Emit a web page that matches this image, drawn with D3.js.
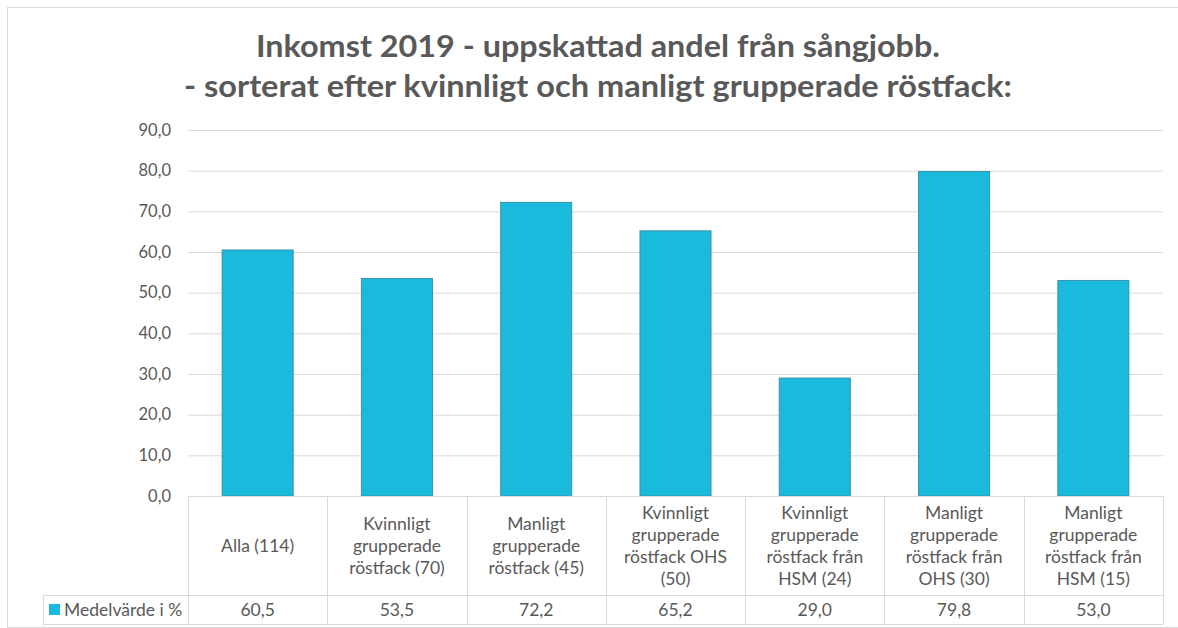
<!DOCTYPE html>
<html>
<head>
<meta charset="utf-8">
<script src="https://cdn.jsdelivr.net/npm/d3@7"></script>
<style>
  html, body { margin: 0; padding: 0; background: #fff; }
  svg { display: block; font-family: Lato, "Open Sans", sans-serif; }
</style>
</head>
<body>
<div id="chart"></div>
<script>
// Data
const categories = [
  ['Alla (114)'],
  ['Kvinnligt', 'grupperade', 'röstfack (70)'],
  ['Manligt', 'grupperade', 'röstfack (45)'],
  ['Kvinnligt', 'grupperade', 'röstfack OHS', '(50)'],
  ['Kvinnligt', 'grupperade', 'röstfack från', 'HSM (24)'],
  ['Manligt', 'grupperade', 'röstfack från', 'OHS (30)'],
  ['Manligt', 'grupperade', 'röstfack från', 'HSM (15)']
];
const values = [60.5, 53.5, 72.2, 65.2, 29.0, 79.8, 53.0];
const seriesName = 'Medelvärde i %';
const yTicks = [0, 10, 20, 30, 40, 50, 60, 70, 80, 90];
const titleLines = [
  'Inkomst 2019 - uppskattad andel från sångjobb.',
  '- sorterat efter kvinnligt och manligt grupperade röstfack:'
];

const width = 1178;
const height = 628;
const textColor = '#595959';
const gridColor = '#d9d9d9';
const barColor = '#19badc';

const plot = { left: 188, right: 1163, top: 130, bottom: 496 };
const tableRow1 = 595;
const tableRow2 = 624;
const legendLeft = 43;
const tableFont = 17.5;

const fmt = v => d3.format('.1f')(v).replace('.', ',');

const svg = d3.select('#chart')
  .append('svg')
  .attr('width', width)
  .attr('height', height);

// outer frame
svg.append('rect')
  .attr('x', 7.5).attr('y', 7.5)
  .attr('width', width + 10).attr('height', height - 8)
  .attr('fill', 'none')
  .attr('stroke', gridColor);

// title
svg.append('g')
  .selectAll('text')
  .data(titleLines)
  .join('text')
  .attr('x', 598)
  .attr('y', (d, i) => 57 + i * 40)
  .attr('text-anchor', 'middle')
  .attr('font-size', 30)
  .attr('font-weight', 'bold')
  .attr('fill', textColor)
  .attr('textLength', (d, i) => i === 0 ? 684 : 828)
  .attr('lengthAdjust', 'spacingAndGlyphs')
  .text(d => d);

const x = d3.scaleBand()
  .domain(d3.range(categories.length))
  .range([plot.left, plot.right])
  .paddingInner(0)
  .paddingOuter(0);

const y = d3.scaleLinear()
  .domain([0, 90])
  .range([plot.bottom, plot.top]);

// gridlines + y axis labels
const yAxis = d3.axisLeft(y)
  .tickValues(yTicks)
  .tickSize(-(plot.right - plot.left))
  .tickPadding(17)
  .tickFormat(fmt);

const gy = svg.append('g')
  .attr('transform', `translate(${plot.left},0)`)
  .call(yAxis);
gy.select('.domain').remove();
gy.selectAll('.tick line').attr('stroke', gridColor).attr('stroke-width', 1);
gy.selectAll('.tick text')
  .attr('fill', textColor)
  .attr('font-size', 16.5)
  .attr('font-family', 'Lato, sans-serif');

// bars
const barW = x.bandwidth() * 0.51;
svg.append('g')
  .selectAll('rect')
  .data(values)
  .join('rect')
  .attr('x', (d, i) => x(i) + (x.bandwidth() - barW) / 2)
  .attr('y', d => y(d))
  .attr('width', barW)
  .attr('height', d => y(0) - y(d))
  .attr('fill', barColor)
  .attr('stroke', '#3a93a8')
  .attr('stroke-width', 1);

// data table
const table = svg.append('g')
  .attr('stroke', gridColor)
  .attr('stroke-width', 1)
  .attr('fill', 'none');

// horizontal lines
table.append('line')
  .attr('x1', plot.left).attr('x2', plot.right)
  .attr('y1', plot.bottom + 0.5).attr('y2', plot.bottom + 0.5);
table.append('line')
  .attr('x1', legendLeft).attr('x2', plot.right)
  .attr('y1', tableRow1 + 0.5).attr('y2', tableRow1 + 0.5);
table.append('line')
  .attr('x1', legendLeft).attr('x2', plot.right)
  .attr('y1', tableRow2 + 0.5).attr('y2', tableRow2 + 0.5);
table.append('line')
  .attr('x1', legendLeft + 0.5).attr('x2', legendLeft + 0.5)
  .attr('y1', tableRow1).attr('y2', tableRow2);

// vertical lines
const bounds = d3.range(categories.length + 1).map(i => i < categories.length ? x(i) : plot.right);
table.selectAll('.vline')
  .data(bounds)
  .join('line')
  .attr('class', 'vline')
  .attr('x1', d => Math.round(d) + 0.5).attr('x2', d => Math.round(d) + 0.5)
  .attr('y1', plot.bottom).attr('y2', tableRow2);

// category labels
const lineH = 22;
const headerMid = (plot.bottom + tableRow1) / 2;
const catG = svg.append('g')
  .selectAll('text')
  .data(categories)
  .join('text')
  .attr('text-anchor', 'middle')
  .attr('font-size', tableFont)
  .attr('fill', textColor);

catG.each(function(lines, i) {
  const cx = x(i) + x.bandwidth() / 2;
  const y0 = headerMid - (lines.length - 1) * lineH / 2 + 6;
  d3.select(this)
    .selectAll('tspan')
    .data(lines)
    .join('tspan')
    .attr('x', cx)
    .attr('y', (d, j) => y0 + j * lineH)
    .text(d => d);
});

// value row
svg.append('g')
  .selectAll('text')
  .data(values)
  .join('text')
  .attr('x', (d, i) => x(i) + x.bandwidth() / 2)
  .attr('y', (tableRow1 + tableRow2) / 2 + 6)
  .attr('text-anchor', 'middle')
  .attr('font-size', tableFont)
  .attr('fill', textColor)
  .text(d => fmt(d));

// legend key
svg.append('rect')
  .attr('x', 49).attr('y', 604)
  .attr('width', 11).attr('height', 11)
  .attr('fill', barColor);
svg.append('text')
  .attr('x', 64)
  .attr('y', (tableRow1 + tableRow2) / 2 + 6)
  .attr('font-size', tableFont)
  .attr('fill', textColor)
  .text(seriesName);
</script>
</body>
</html>
